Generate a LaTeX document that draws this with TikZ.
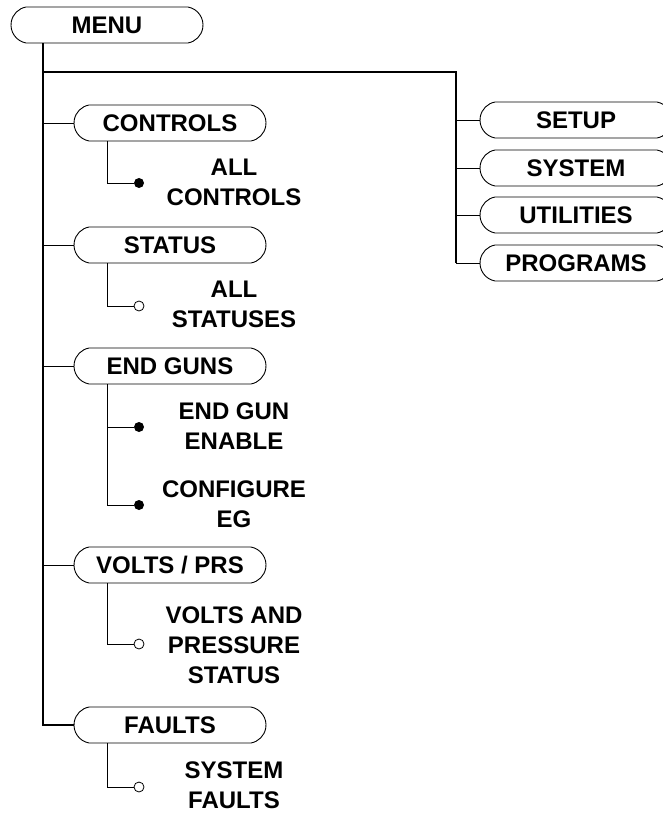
\documentclass[tikz,border=0pt]{standalone}
\usepackage{fontspec}
\setmainfont{Liberation Sans}
\usetikzlibrary{shapes.misc}
\begin{document}
\begin{tikzpicture}[x=1pt,y=-1pt,
  menubox/.style={rounded rectangle, rounded rectangle arc length=160, draw, line width=0.9pt,
    minimum width=192pt, minimum height=36pt, inner sep=0pt,
    font=\bfseries\fontsize{24}{30}\selectfont},
  leaf/.style={align=center, inner sep=0pt, font=\bfseries\fontsize{24}{30}\selectfont},
  trunk/.style={line width=1.6pt},
  branch/.style={line width=0.9pt},
  fulldot/.style={circle, fill, inner sep=0pt, minimum size=10pt},
  opendot/.style={circle, draw, fill=white, line width=0.8pt, inner sep=0pt, minimum size=10pt}]
\useasboundingbox (0,0) rectangle (662,813);

% main boxes
\node[menubox] (menu) at (107,25) {MENU};
\node[menubox] (controls) at (170,123) {CONTROLS};
\node[menubox] (status) at (170,245) {STATUS};
\node[menubox] (endguns) at (170,366) {END GUNS};
\node[menubox] (volts) at (170,565) {VOLTS / PRS};
\node[menubox] (faults) at (170,725) {FAULTS};
\node[menubox] (setup) at (576,120) {SETUP};
\node[menubox] (system) at (576,168) {SYSTEM};
\node[menubox] (utilities) at (576,215) {UTILITIES};
\node[menubox] (programs) at (576,263) {PROGRAMS};

% trunk coordinates
\coordinate (t0) at (43,43);
\coordinate (tj) at (43,72);
\coordinate (rj) at (456,72);

% leaves
\node[fulldot] (d1) at (139,183) {};
\node[leaf] (l1) at (234,182) {ALL\\CONTROLS};
\node[opendot] (d2) at (139,306) {};
\node[leaf] (l2) at (234,304) {ALL\\STATUSES};
\node[fulldot] (d3) at (139,427) {};
\node[leaf] (l3) at (234,426) {END GUN\\ENABLE};
\node[fulldot] (d4) at (139,505) {};
\node[leaf] (l4) at (234,504) {CONFIGURE\\EG};
\node[opendot] (d5) at (139,644) {};
\node[leaf] (l5) at (234,645) {VOLTS AND\\PRESSURE\\STATUS};
\node[opendot] (d6) at (139,787) {};
\node[leaf] (l6) at (234,785) {SYSTEM\\FAULTS};

% main trunk
\draw[trunk] (menu.south -| t0) |- (faults.west);
\draw[trunk] (tj) -- (rj) -- (rj |- programs.west);
\draw[branch] (rj |- programs.west) -- (programs.west);
\draw[branch] (rj |- setup.west) -- (setup.west);
\draw[branch] (rj |- system.west) -- (system.west);
\draw[branch] (rj |- utilities.west) -- (utilities.west);

\draw[branch] (tj |- controls.west) -- (controls.west);
\draw[branch] (tj |- status.west) -- (status.west);
\draw[branch] (tj |- endguns.west) -- (endguns.west);
\draw[branch] (tj |- volts.west) -- (volts.west);

% sub trees
\draw[branch] (107,0 |- controls.south) |- (d1);
\draw[branch] (107,0 |- status.south) |- (d2);
\draw[branch] (107,0 |- endguns.south) |- (d4);
\draw[branch] (107,0 |- d3) -- (d3);
\draw[branch] (107,0 |- volts.south) |- (d5);
\draw[branch] (107,0 |- faults.south) |- (d6);
\end{tikzpicture}
\end{document}
